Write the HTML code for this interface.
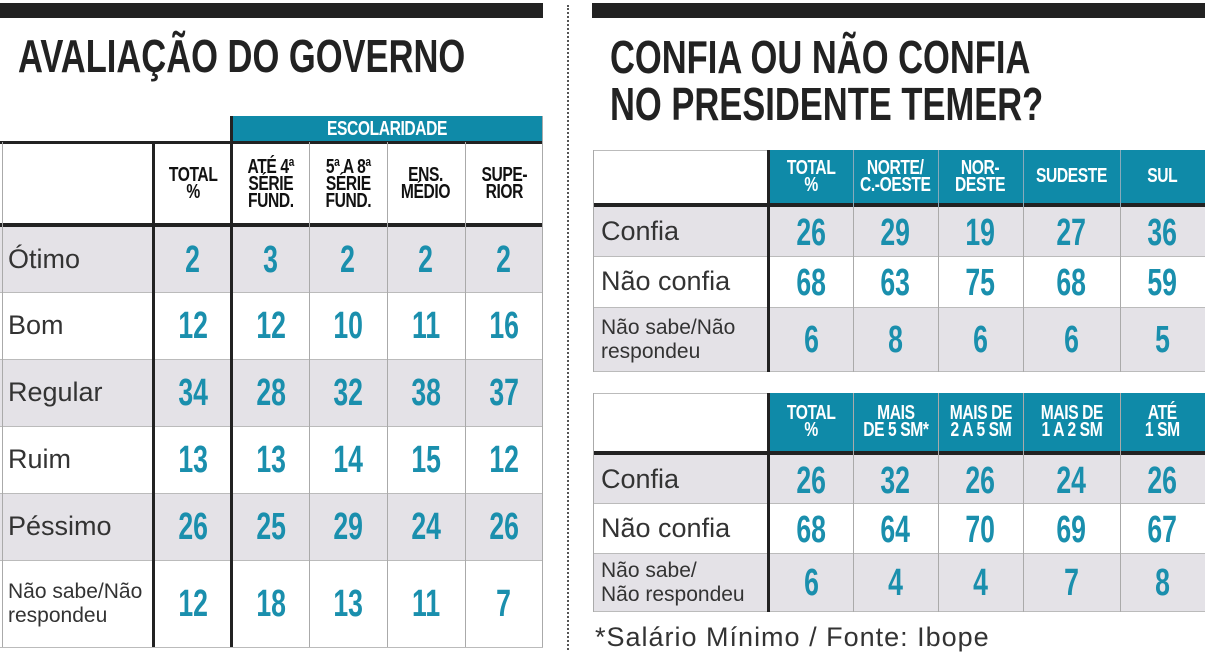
<!DOCTYPE html>
<html><head><meta charset="utf-8"><style>
*{margin:0;padding:0;box-sizing:border-box}
body{width:1205px;height:654px;background:#fff;position:relative;overflow:hidden;font-family:"Liberation Sans",sans-serif}
.a{position:absolute}
.c{position:absolute;display:flex;align-items:center;justify-content:center;text-align:center}
.n span{display:inline-block;font-size:38px;font-weight:bold;color:#1a8fad;transform:scaleX(.7);line-height:1}
.h span{display:inline-block;font-size:20px;font-weight:bold;line-height:17px;transform:scaleX(.78);letter-spacing:-.5px;white-space:nowrap}
.hw span{color:#fff}
.hb span{color:#111}
.l{position:absolute;display:flex;align-items:center;color:#333;font-size:27px;padding-left:8px}
.ls{font-size:21px;line-height:24px}
.t{position:absolute;font-size:46px;font-weight:bold;color:#222;transform-origin:0 0;transform:scaleX(.75);white-space:nowrap;line-height:1}
.g{background:#e4e2e7}
.vl{position:absolute;background:#aaa;width:1px}
.hl{position:absolute;background:#bbb;height:1px}
</style></head><body>
<div class="a" style="left:0;top:3px;width:543px;height:15px;background:#222"></div>
<div class="a" style="left:592px;top:3px;width:613px;height:15px;background:#222"></div>
<div class="a" style="left:567px;top:5px;height:645px;border-left:2px dotted #555"></div>
<div class="t" style="left:18px;top:33px">AVALIAÇÃO DO GOVERNO</div>
<div class="t" style="left:610px;top:34px">CONFIA OU NÃO CONFIA</div>
<div class="t" style="left:610px;top:81px">NO PRESIDENTE TEMER?</div>

<div class="c hw h" style="left:231px;top:116px;width:312px;height:26px;background:#0f8aa8"><span style="font-size:20px">ESCOLARIDADE</span></div>
<div class="a g" style="left:0;top:225px;width:543px;height:67px"></div>
<div class="a g" style="left:0;top:359px;width:543px;height:67px"></div>
<div class="a g" style="left:0;top:493px;width:543px;height:67px"></div>
<div class="a" style="left:0;top:141px;width:543px;height:3px;background:#222"></div>
<div class="a" style="left:0;top:223px;width:543px;height:4px;background:#222"></div>
<div class="hl" style="left:0;top:292px;width:543px"></div>
<div class="hl" style="left:0;top:359px;width:543px"></div>
<div class="hl" style="left:0;top:426px;width:543px"></div>
<div class="hl" style="left:0;top:493px;width:543px"></div>
<div class="hl" style="left:0;top:560px;width:543px"></div>
<div class="hl" style="left:0;top:647px;width:543px"></div>
<div class="vl" style="left:2px;top:142px;height:505px"></div>
<div class="a" style="left:152px;top:142px;width:3px;height:505px;background:#222"></div>
<div class="a" style="left:230px;top:116px;width:3px;height:531px;background:#222"></div>
<div class="vl" style="left:309px;top:142px;height:505px"></div>
<div class="vl" style="left:387px;top:142px;height:505px"></div>
<div class="vl" style="left:465px;top:142px;height:505px"></div>
<div class="vl" style="left:542px;top:116px;height:531px"></div>

<div class="c h hb" style="left:155px;top:144px;width:76px;height:80px"><span>TOTAL<br>%</span></div>
<div class="c h hb" style="left:233px;top:144px;width:76px;height:80px"><span>ATÉ 4ª<br>SÉRIE<br>FUND.</span></div>
<div class="c h hb" style="left:309px;top:144px;width:78px;height:80px"><span>5ª A 8ª<br>SÉRIE<br>FUND.</span></div>
<div class="c h hb" style="left:387px;top:144px;width:78px;height:80px"><span>ENS.<br>MÉDIO</span></div>
<div class="c h hb" style="left:465px;top:144px;width:78px;height:80px"><span>SUPE-<br>RIOR</span></div>

<div class="l" style="left:0;top:227px;height:65px">Ótimo</div>
<div class="l" style="left:0;top:292px;height:67px">Bom</div>
<div class="l" style="left:0;top:359px;height:67px">Regular</div>
<div class="l" style="left:0;top:426px;height:67px">Ruim</div>
<div class="l" style="left:0;top:493px;height:67px">Péssimo</div>
<div class="l ls" style="left:0;top:560px;height:87px">Não sabe/Não<br>respondeu</div>

<div class="c n" style="left:155px;top:227px;width:76px;height:65px"><span>2</span></div>
<div class="c n" style="left:233px;top:227px;width:76px;height:65px"><span>3</span></div>
<div class="c n" style="left:309px;top:227px;width:78px;height:65px"><span>2</span></div>
<div class="c n" style="left:387px;top:227px;width:78px;height:65px"><span>2</span></div>
<div class="c n" style="left:465px;top:227px;width:78px;height:65px"><span>2</span></div>

<div class="c n" style="left:155px;top:292px;width:76px;height:67px"><span>12</span></div>
<div class="c n" style="left:233px;top:292px;width:76px;height:67px"><span>12</span></div>
<div class="c n" style="left:309px;top:292px;width:78px;height:67px"><span>10</span></div>
<div class="c n" style="left:387px;top:292px;width:78px;height:67px"><span>11</span></div>
<div class="c n" style="left:465px;top:292px;width:78px;height:67px"><span>16</span></div>

<div class="c n" style="left:155px;top:359px;width:76px;height:67px"><span>34</span></div>
<div class="c n" style="left:233px;top:359px;width:76px;height:67px"><span>28</span></div>
<div class="c n" style="left:309px;top:359px;width:78px;height:67px"><span>32</span></div>
<div class="c n" style="left:387px;top:359px;width:78px;height:67px"><span>38</span></div>
<div class="c n" style="left:465px;top:359px;width:78px;height:67px"><span>37</span></div>

<div class="c n" style="left:155px;top:426px;width:76px;height:67px"><span>13</span></div>
<div class="c n" style="left:233px;top:426px;width:76px;height:67px"><span>13</span></div>
<div class="c n" style="left:309px;top:426px;width:78px;height:67px"><span>14</span></div>
<div class="c n" style="left:387px;top:426px;width:78px;height:67px"><span>15</span></div>
<div class="c n" style="left:465px;top:426px;width:78px;height:67px"><span>12</span></div>

<div class="c n" style="left:155px;top:493px;width:76px;height:67px"><span>26</span></div>
<div class="c n" style="left:233px;top:493px;width:76px;height:67px"><span>25</span></div>
<div class="c n" style="left:309px;top:493px;width:78px;height:67px"><span>29</span></div>
<div class="c n" style="left:387px;top:493px;width:78px;height:67px"><span>24</span></div>
<div class="c n" style="left:465px;top:493px;width:78px;height:67px"><span>26</span></div>

<div class="c n" style="left:155px;top:560px;width:76px;height:87px"><span>12</span></div>
<div class="c n" style="left:233px;top:560px;width:76px;height:87px"><span>18</span></div>
<div class="c n" style="left:309px;top:560px;width:78px;height:87px"><span>13</span></div>
<div class="c n" style="left:387px;top:560px;width:78px;height:87px"><span>11</span></div>
<div class="c n" style="left:465px;top:560px;width:78px;height:87px"><span>7</span></div>

<div class="a" style="left:768px;top:150px;width:437px;height:55px;background:#0f8aa8"></div>
<div class="a g" style="left:593px;top:207px;width:612px;height:49px"></div>
<div class="a g" style="left:593px;top:307px;width:612px;height:65px"></div>
<div class="hl" style="left:593px;top:150px;width:175px"></div>
<div class="a" style="left:593px;top:203px;width:612px;height:4px;background:#222"></div>
<div class="hl" style="left:593px;top:256px;width:612px"></div>
<div class="hl" style="left:593px;top:307px;width:612px"></div>
<div class="hl" style="left:593px;top:371px;width:612px"></div>
<div class="vl" style="left:593px;top:150px;height:222px"></div>
<div class="a" style="left:767px;top:150px;width:3px;height:222px;background:#222"></div>
<div class="vl" style="left:853px;top:150px;height:222px;background:#8ab"></div>
<div class="vl" style="left:938px;top:150px;height:222px;background:#8ab"></div>
<div class="vl" style="left:1023px;top:150px;height:222px;background:#8ab"></div>
<div class="vl" style="left:1120px;top:150px;height:222px;background:#8ab"></div>
<div class="vl" style="left:853px;top:207px;height:165px"></div>
<div class="vl" style="left:938px;top:207px;height:165px"></div>
<div class="vl" style="left:1023px;top:207px;height:165px"></div>
<div class="vl" style="left:1120px;top:207px;height:165px"></div>

<div class="c h hw" style="left:770px;top:150px;width:83px;height:53px"><span>TOTAL<br>%</span></div>
<div class="c h hw" style="left:853px;top:150px;width:85px;height:53px"><span>NORTE/<br>C.-OESTE</span></div>
<div class="c h hw" style="left:938px;top:150px;width:85px;height:53px"><span>NOR-<br>DESTE</span></div>
<div class="c h hw" style="left:1023px;top:150px;width:97px;height:53px"><span>SUDESTE</span></div>
<div class="c h hw" style="left:1120px;top:150px;width:85px;height:53px"><span>SUL</span></div>

<div class="l" style="left:593px;top:207px;height:49px">Confia</div>
<div class="l" style="left:593px;top:256px;height:51px">Não confia</div>
<div class="l ls" style="left:593px;top:307px;height:65px">Não sabe/Não<br>respondeu</div>

<div class="c n" style="left:770px;top:207px;width:83px;height:52px"><span>26</span></div>
<div class="c n" style="left:853px;top:207px;width:85px;height:52px"><span>29</span></div>
<div class="c n" style="left:938px;top:207px;width:85px;height:52px"><span>19</span></div>
<div class="c n" style="left:1023px;top:207px;width:97px;height:52px"><span>27</span></div>
<div class="c n" style="left:1120px;top:207px;width:85px;height:52px"><span>36</span></div>
<div class="c n" style="left:770px;top:256px;width:83px;height:54px"><span>68</span></div>
<div class="c n" style="left:853px;top:256px;width:85px;height:54px"><span>63</span></div>
<div class="c n" style="left:938px;top:256px;width:85px;height:54px"><span>75</span></div>
<div class="c n" style="left:1023px;top:256px;width:97px;height:54px"><span>68</span></div>
<div class="c n" style="left:1120px;top:256px;width:85px;height:54px"><span>59</span></div>
<div class="c n" style="left:770px;top:307px;width:83px;height:65px"><span>6</span></div>
<div class="c n" style="left:853px;top:307px;width:85px;height:65px"><span>8</span></div>
<div class="c n" style="left:938px;top:307px;width:85px;height:65px"><span>6</span></div>
<div class="c n" style="left:1023px;top:307px;width:97px;height:65px"><span>6</span></div>
<div class="c n" style="left:1120px;top:307px;width:85px;height:65px"><span>5</span></div>

<div class="a" style="left:768px;top:393px;width:437px;height:58px;background:#0f8aa8"></div>
<div class="a g" style="left:593px;top:455px;width:612px;height:48px"></div>
<div class="a g" style="left:593px;top:553px;width:612px;height:59px"></div>
<div class="hl" style="left:593px;top:393px;width:175px"></div>
<div class="a" style="left:593px;top:451px;width:612px;height:4px;background:#222"></div>
<div class="hl" style="left:593px;top:503px;width:612px"></div>
<div class="hl" style="left:593px;top:553px;width:612px"></div>
<div class="hl" style="left:593px;top:611px;width:612px"></div>
<div class="vl" style="left:593px;top:393px;height:219px"></div>
<div class="a" style="left:767px;top:393px;width:3px;height:219px;background:#222"></div>
<div class="vl" style="left:853px;top:393px;height:219px"></div>
<div class="vl" style="left:938px;top:393px;height:219px"></div>
<div class="vl" style="left:1023px;top:393px;height:219px"></div>
<div class="vl" style="left:1120px;top:393px;height:219px"></div>

<div class="c h hw" style="left:770px;top:393px;width:83px;height:58px"><span>TOTAL<br>%</span></div>
<div class="c h hw" style="left:853px;top:393px;width:85px;height:58px"><span>MAIS<br>DE 5 SM*</span></div>
<div class="c h hw" style="left:938px;top:393px;width:85px;height:58px"><span>MAIS DE<br>2 A 5 SM</span></div>
<div class="c h hw" style="left:1023px;top:393px;width:97px;height:58px"><span>MAIS DE<br>1 A 2 SM</span></div>
<div class="c h hw" style="left:1120px;top:393px;width:85px;height:58px"><span>ATÉ<br>1 SM</span></div>

<div class="l" style="left:593px;top:455px;height:48px">Confia</div>
<div class="l" style="left:593px;top:503px;height:50px">Não confia</div>
<div class="l ls" style="left:593px;top:553px;height:59px">Não sabe/<br>Não respondeu</div>

<div class="c n" style="left:770px;top:455px;width:83px;height:52px"><span>26</span></div>
<div class="c n" style="left:853px;top:455px;width:85px;height:52px"><span>32</span></div>
<div class="c n" style="left:938px;top:455px;width:85px;height:52px"><span>26</span></div>
<div class="c n" style="left:1023px;top:455px;width:97px;height:52px"><span>24</span></div>
<div class="c n" style="left:1120px;top:455px;width:85px;height:52px"><span>26</span></div>
<div class="c n" style="left:770px;top:503px;width:83px;height:54px"><span>68</span></div>
<div class="c n" style="left:853px;top:503px;width:85px;height:54px"><span>64</span></div>
<div class="c n" style="left:938px;top:503px;width:85px;height:54px"><span>70</span></div>
<div class="c n" style="left:1023px;top:503px;width:97px;height:54px"><span>69</span></div>
<div class="c n" style="left:1120px;top:503px;width:85px;height:54px"><span>67</span></div>
<div class="c n" style="left:770px;top:553px;width:83px;height:59px"><span>6</span></div>
<div class="c n" style="left:853px;top:553px;width:85px;height:59px"><span>4</span></div>
<div class="c n" style="left:938px;top:553px;width:85px;height:59px"><span>4</span></div>
<div class="c n" style="left:1023px;top:553px;width:97px;height:59px"><span>7</span></div>
<div class="c n" style="left:1120px;top:553px;width:85px;height:59px"><span>8</span></div>

<div class="a" style="left:595px;top:622px;font-size:27px;letter-spacing:1px;color:#333;white-space:nowrap">*Salário Mínimo / Fonte: Ibope</div>
</body></html>
